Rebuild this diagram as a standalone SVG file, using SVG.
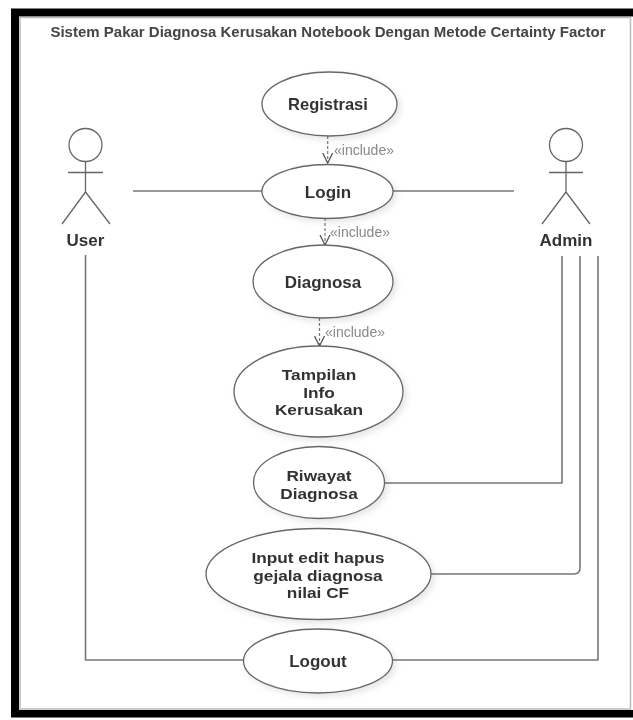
<svg xmlns="http://www.w3.org/2000/svg" width="633" height="720" viewBox="0 0 633 720">
<defs>
<marker id="open" viewBox="0 0 12 12" refX="11" refY="6" markerWidth="12" markerHeight="12" markerUnits="userSpaceOnUse" orient="auto"><path d="M1 1 L11 6 L1 11" fill="none" stroke="#555" stroke-width="1.3"/></marker>
<filter id="shadow" x="-10%" y="-10%" width="125%" height="125%"><feDropShadow dx="3" dy="3" stdDeviation="3" flood-color="#000" flood-opacity="0.1"/></filter>
<filter id="soft" filterUnits="userSpaceOnUse" x="0" y="0" width="633" height="720"><feGaussianBlur stdDeviation="0.5"/></filter>
</defs>
<style>
text{font-family:"Liberation Sans",Arial,sans-serif;text-anchor:middle}
.n{font-size:17px;font-weight:700;fill:#333}
.m{font-size:15px;font-weight:700;fill:#333}
.uc{fill:#fff;stroke:#666;stroke-width:1.3;filter:url(#shadow)}
.a{fill:none;stroke:#666;stroke-width:1.3}
.c{fill:none;stroke:#777;stroke-width:1.6;stroke-linejoin:round}
.d{fill:none;stroke:#777;stroke-width:1.2;stroke-dasharray:3 2}
.i{font-size:14px;fill:#888}
</style>
<rect width="633" height="720" fill="#fff"/>
<g filter="url(#soft)">
<path d="M11 8.500H633V16.500H19V710H633V717.500H11Z" fill="#000"/>
<path d="M20 17.500H630.500V709H20Z" fill="#fff" stroke="#bbb" stroke-width="1.500"/>
<text x="328" y="37" font-size="15" font-weight="700" fill="#444">Sistem Pakar Diagnosa Kerusakan Notebook Dengan Metode Certainty Factor</text>
<g id="connectors">
<path class="c" d="M133 191H262"/>
<path class="c" d="M393 191H514"/>
<path class="c" d="M85.500 255V660H243"/>
<path class="c" d="M392 660H598V256"/>
<path class="c" d="M431 574H574Q580 574 580 568V256"/>
<path class="c" d="M384 483H562V256"/>
<path class="d" d="M327.700 136V163" marker-end="url(#open)"/>
<path class="d" d="M325 218V245" marker-end="url(#open)"/>
<path class="d" d="M319.500 318V346" marker-end="url(#open)"/>
<text class="i" x="364" y="155">«include»</text>
<text class="i" x="360" y="237">«include»</text>
<text class="i" x="355" y="337">«include»</text>
</g>
<g id="actor-user">
<circle class="a" cx="85.500" cy="145" r="16.500"/>
<path class="a" d="M85.500 161.500V192M68 172.500H103M85.500 192L62 224M85.500 192L110 224"/>
<text class="n" x="85.500" y="246">User</text>
</g>
<g id="actor-admin">
<circle class="a" cx="566" cy="145" r="16.500"/>
<path class="a" d="M566 161.500V192M549 172.500H583M566 192L542 224M566 192L590 224"/>
<text class="n" x="566" y="246">Admin</text>
</g>
<g id="uc-registrasi"><ellipse class="uc" cx="329.500" cy="104" rx="67.500" ry="32"/><text class="n" x="328" y="110" style="font-size:16.500px">Registrasi</text></g>
<g id="uc-login"><ellipse class="uc" cx="327.500" cy="191.500" rx="65.500" ry="27"/><text class="n" x="328" y="198">Login</text></g>
<g id="uc-diagnosa"><ellipse class="uc" cx="323" cy="281.500" rx="70" ry="36.500"/><text class="n" x="323" y="288">Diagnosa</text></g>
<g id="uc-tampilan"><ellipse class="uc" cx="318.500" cy="391.500" rx="84.500" ry="45.500"/><text class="m" transform="translate(319 380) scale(1.15 1)">Tampilan</text><text class="m" transform="translate(319 397.500) scale(1.15 1)">Info</text><text class="m" transform="translate(319 415) scale(1.15 1)">Kerusakan</text></g>
<g id="uc-riwayat"><ellipse class="uc" cx="319" cy="482.500" rx="65.500" ry="36"/><text class="m" transform="translate(319 481) scale(1.15 1)">Riwayat</text><text class="m" transform="translate(319 498.500) scale(1.15 1)">Diagnosa</text></g>
<g id="uc-input"><ellipse class="uc" cx="318.500" cy="574" rx="112.500" ry="45.500"/><text class="m" transform="translate(318 563) scale(1.15 1)">Input edit hapus</text><text class="m" transform="translate(318 580.500) scale(1.15 1)">gejala diagnosa</text><text class="m" transform="translate(318 598) scale(1.15 1)">nilai CF</text></g>
<g id="uc-logout"><ellipse class="uc" cx="318" cy="661" rx="74.500" ry="32"/><text class="n" x="318" y="667">Logout</text></g>
</g>
</svg>
